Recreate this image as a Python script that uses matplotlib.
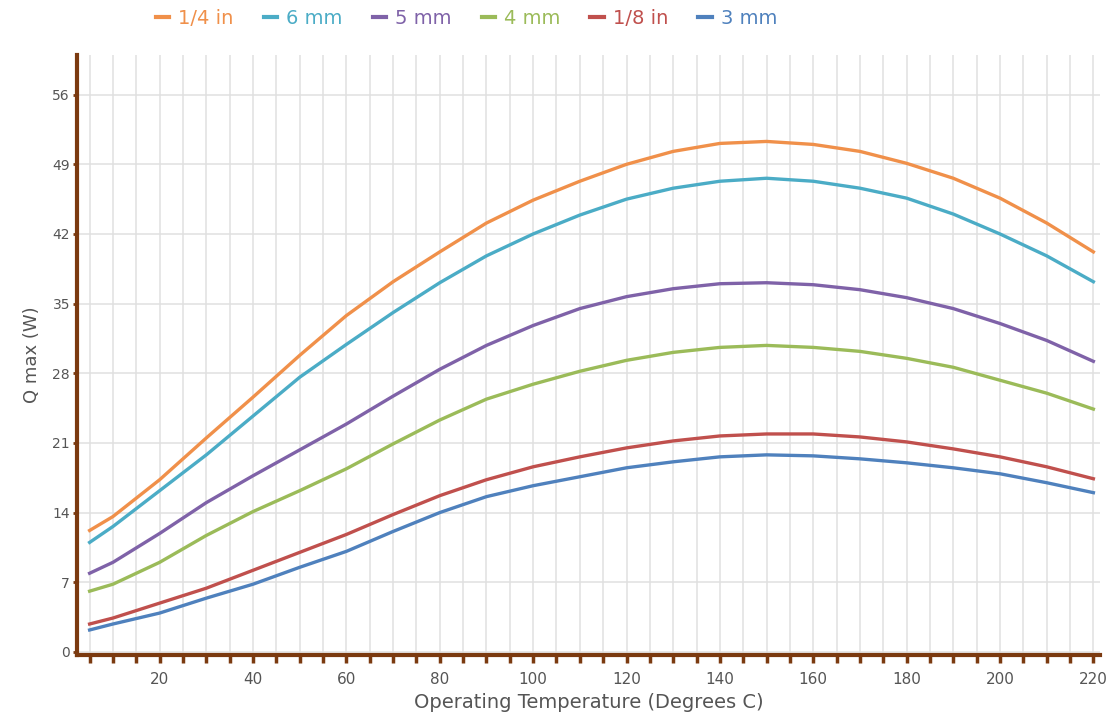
import matplotlib
matplotlib.use('Agg')
import matplotlib.pyplot as plt
from matplotlib.ticker import MultipleLocator

# operating temperature (deg C)
temps = [5, 10, 20, 30, 40, 50, 60, 70, 80, 90, 100, 110, 120, 130, 140, 150,
         160, 170, 180, 190, 200, 210, 220]

# Q max (W)
q_quarter_in = [12.2, 13.6, 17.3, 21.5, 25.6, 29.8, 33.8, 37.2, 40.2, 43.1, 45.4, 47.3,
                49.0, 50.3, 51.1, 51.3, 51.0, 50.3, 49.1, 47.6, 45.6, 43.1, 40.2]
q_6mm = [11.0, 12.6, 16.2, 19.8, 23.7, 27.6, 30.9, 34.1, 37.1, 39.8, 42.0, 43.9,
         45.5, 46.6, 47.3, 47.6, 47.3, 46.6, 45.6, 44.0, 42.0, 39.8, 37.2]
q_5mm = [7.9, 9.0, 11.9, 15.0, 17.7, 20.3, 22.9, 25.7, 28.4, 30.8, 32.8, 34.5,
         35.7, 36.5, 37.0, 37.1, 36.9, 36.4, 35.6, 34.5, 33.0, 31.3, 29.2]
q_4mm = [6.1, 6.8, 9.0, 11.7, 14.1, 16.2, 18.4, 20.9, 23.3, 25.4, 26.9, 28.2,
         29.3, 30.1, 30.6, 30.8, 30.6, 30.2, 29.5, 28.6, 27.3, 26.0, 24.4]
q_eighth_in = [2.8, 3.4, 4.9, 6.4, 8.2, 10.0, 11.8, 13.8, 15.7, 17.3, 18.6, 19.6,
               20.5, 21.2, 21.7, 21.9, 21.9, 21.6, 21.1, 20.4, 19.6, 18.6, 17.4]
q_3mm = [2.2, 2.8, 3.9, 5.4, 6.8, 8.5, 10.1, 12.1, 14.0, 15.6, 16.7, 17.6,
         18.5, 19.1, 19.6, 19.8, 19.7, 19.4, 19.0, 18.5, 17.9, 17.0, 16.0]

labels = ["1/4 in", "6 mm", "5 mm", "4 mm", "1/8 in", "3 mm"]
series = [q_quarter_in, q_6mm, q_5mm, q_4mm, q_eighth_in, q_3mm]
colors = ["#F0904A", "#4BACC6", "#7F62A8", "#9BBB59", "#C0504D", "#4F81BD"]

y_ticks = [0, 7, 14, 21, 28, 35, 42, 49, 56]
x_ticks = [20, 40, 60, 80, 100, 120, 140, 160, 180, 200, 220]

axis_col = "#7B3A10"
text_col = "#555555"

plt.rcParams['font.family'] = ['DejaVu Sans']

fig = plt.figure(figsize=(11.16, 7.22), dpi=100)
ax = fig.add_axes([0.069, 0.093, 0.917, 0.831])

lines = []
for y, c, lab in zip(series, colors, labels):
    ln, = ax.plot(temps, y, color=c, lw=2.4, label=lab)
    lines.append(ln)

ax.set_xlim(2.3, 221.5)
ax.set_ylim(-0.3, 60)

ax.set_xticks(x_ticks)
ax.xaxis.set_minor_locator(MultipleLocator(5))
ax.set_yticks(y_ticks)

ax.grid(which='both', axis='x', color='#e0e0e0', lw=1.1)
ax.grid(which='major', axis='y', color='#e0e0e0', lw=1.1)
ax.set_axisbelow(True)

for s in ['top', 'right']:
    ax.spines[s].set_visible(False)
for s in ['left', 'bottom']:
    ax.spines[s].set_color(axis_col)
    ax.spines[s].set_linewidth(3)

ax.tick_params(axis='x', which='both', direction='out', length=6, width=2.5,
               color=axis_col, labelcolor=text_col, labelsize=11, pad=6)
ax.tick_params(axis='y', which='major', direction='out', length=3, width=2,
               color=axis_col, labelcolor=text_col, labelsize=10, pad=2)

ax.set_xlabel('Operating Temperature (Degrees C)', fontsize=14, color=text_col, labelpad=5)
ax.set_ylabel('Q max (W)', fontsize=13, color=text_col, labelpad=8)

leg = fig.legend(handles=lines, loc='upper center', bbox_to_anchor=(0.418, 1.012),
                 ncol=6, frameon=False, fontsize=14, handlelength=0.7,
                 handletextpad=0.45, columnspacing=1.55)
for t, c in zip(leg.get_texts(), colors):
    t.set_color(c)
for h in leg.get_lines():
    h.set_linewidth(3)

fig.savefig('out.png', dpi=100)
